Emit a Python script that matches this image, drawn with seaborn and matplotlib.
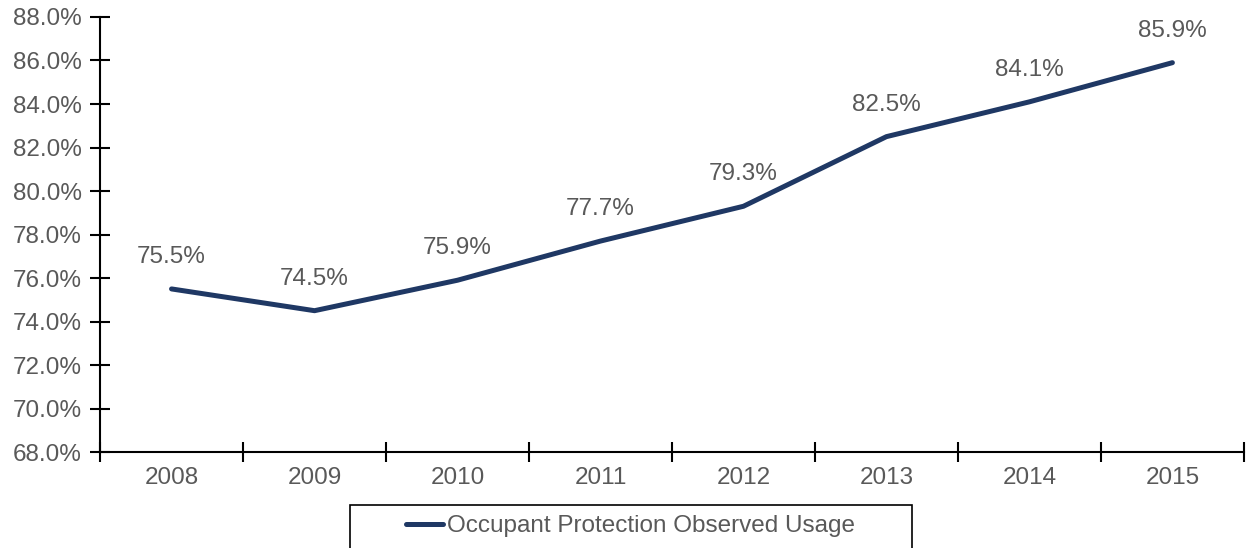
"""
Occupant protection observed usage, 2008-2015.
"""

import numpy as np
import matplotlib.pyplot as plt
import seaborn as sns
from matplotlib.patches import Rectangle
from matplotlib.ticker import FixedLocator, PercentFormatter

years = ["2008", "2009", "2010", "2011", "2012", "2013", "2014", "2015"]
usage = [75.5, 74.5, 75.9, 77.7, 79.3, 82.5, 84.1, 85.9]
series_name = "Occupant Protection Observed Usage"

LINE_COLOR = "#1f3864"
TEXT_COLOR = "#595959"
FS = 17.5

sns.set_style("white")
plt.rcParams['font.family'] = ['Liberation Sans', 'DejaVu Sans']

fig = plt.figure(figsize=(12.46, 5.48), dpi=100)
ax = fig.add_axes([0.0803, 0.175, 0.918, 0.794])

x = np.arange(len(years))
sns.lineplot(x=x, y=usage, ax=ax, color=LINE_COLOR, lw=3.6,
             solid_capstyle='round', label=series_name)

for xi, v in zip(x, usage):
    ax.annotate(f"{v:.1f}%", (xi, v), xytext=(0, 23), textcoords='offset points',
                ha='center', va='center', fontsize=FS, color=TEXT_COLOR)

ax.set_xlim(-0.5, len(years) - 0.5)
ax.set_ylim(68, 88)
ax.yaxis.set_major_locator(FixedLocator(np.arange(68, 88.1, 2)))
ax.yaxis.set_major_formatter(PercentFormatter(decimals=1))

# category axis: tick marks on boundaries, labels at centres
ax.xaxis.set_major_locator(FixedLocator(np.arange(-0.5, len(years), 1.0)))
ax.xaxis.set_minor_locator(FixedLocator(x))
ax.set_xticklabels([])
ax.set_xticklabels(years, minor=True)

ax.tick_params(axis='both', which='major', direction='inout', length=14,
               width=1.5, color='black', labelsize=FS, labelcolor=TEXT_COLOR,
               left=True, bottom=True)
ax.tick_params(axis='x', which='minor', length=0, pad=11, bottom=True,
               labelsize=FS, labelcolor=TEXT_COLOR)
ax.tick_params(axis='y', pad=6)

sns.despine(ax=ax)
for s in ['left', 'bottom']:
    ax.spines[s].set_linewidth(1.5)
    ax.spines[s].set_color('black')
ax.grid(False)

ax.get_legend().remove()
handles, labels = ax.get_legend_handles_labels()
leg = fig.legend(handles, labels, loc='center', bbox_to_anchor=(0.5058, 0.0401),
                 frameon=False, fontsize=FS, handlelength=1.55, handletextpad=0.15,
                 labelcolor=TEXT_COLOR)

# legend box, cut off by the bottom edge of the figure
fig.patches.append(Rectangle((0.2809, -0.05), 0.451, 0.1285, transform=fig.transFigure,
                             fill=False, edgecolor='black', linewidth=1.2))

fig.savefig("out.png", dpi=100)
